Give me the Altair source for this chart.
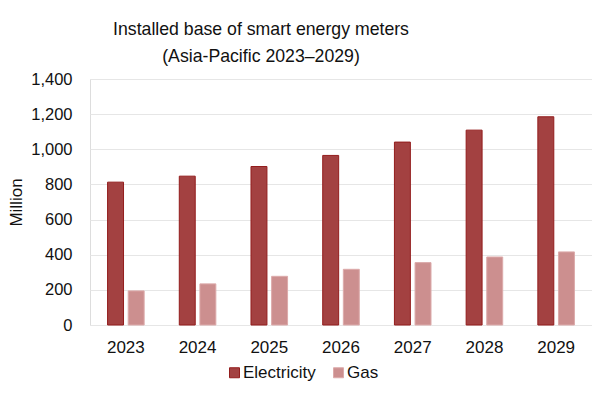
import altair as alt
import pandas as pd

years = ["2023", "2024", "2025", "2026", "2027", "2028", "2029"]
electricity = [813, 847, 902, 965, 1041, 1109, 1185]
gas = [194, 234, 277, 317, 355, 387, 416]
series = ["Electricity", "Gas"]
fill_colors = ["#a34141", "#cc8f8f"]
stroke_colors = ["#931d1d", "#dcaaaa"]

rows = []
for i, y in enumerate(years):
    rows.append({"Year": y, "Series": "Electricity", "Value": electricity[i]})
    rows.append({"Year": y, "Series": "Gas", "Value": gas[i]})
df = pd.DataFrame(rows)

FONT = "Liberation Sans"
TXT = "#111111"

chart = alt.Chart(df).mark_bar(strokeWidth=1).encode(
    x=alt.X("Year:N", sort=years,
            scale=alt.Scale(paddingInner=0.49, paddingOuter=0.245),
            axis=alt.Axis(title=None, labelAngle=0, ticks=False, tickSize=0, domain=False,
                          labelPadding=14, labelFontSize=17, labelColor=TXT, labelFont=FONT)),
    xOffset=alt.XOffset("Series:N", sort=series, scale=alt.Scale(paddingInner=0.227)),
    y=alt.Y("Value:Q",
            scale=alt.Scale(domain=[0, 1400]),
            axis=alt.Axis(title="Million", values=list(range(0, 1401, 200)), format=",d",
                          ticks=False, tickSize=0, domain=False, labelPadding=18,
                          labelFontSize=16.5, labelColor=TXT, labelFont=FONT,
                          titleFontSize=17, titleFontWeight="normal", titleColor=TXT,
                          titleFont=FONT, titlePadding=5,
                          gridColor="#e6e6e6", gridWidth=1)),
    color=alt.Color("Series:N", sort=series,
                    scale=alt.Scale(domain=series, range=fill_colors),
                    legend=alt.Legend(title=None, orient="none", direction="horizontal",
                                      legendX=136, legendY=285, symbolType="square",
                                      symbolSize=100, symbolStrokeWidth=1,
                                      labelFontSize=17, labelColor=TXT, labelFont=FONT,
                                      labelOffset=0, columnPadding=14)),
    stroke=alt.Stroke("Series:N", sort=series,
                      scale=alt.Scale(domain=series, range=stroke_colors),
                      legend=None),
).properties(
    width=502,
    height=246,
    autosize=alt.AutoSizeParams(type="none"),
    padding={"left": 82, "top": 71, "right": 0, "bottom": 60},
    title=alt.TitleParams(
        text=["Installed base of smart energy meters", "(Asia-Pacific 2023\u20132029)"],
        anchor="middle", dx=-80, fontSize=17.7, fontWeight="normal", font=FONT,
        color=TXT, lineHeight=27, offset=5),
).configure_view(stroke=None).configure(background="white")

chart.save("out.html", embed_options={"renderer": "svg", "actions": False})
